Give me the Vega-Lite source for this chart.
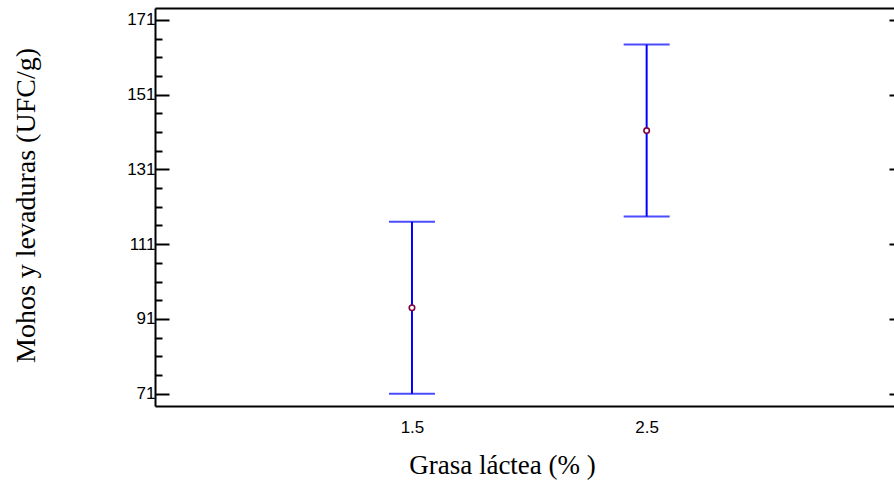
{
  "$schema": "https://vega.github.io/schema/vega-lite/v6.json",
  "width": 739,
  "height": 398,
  "autosize": "none",
  "padding": {"left": 155, "top": 8, "right": 0, "bottom": 75},
  "background": "white",
  "config": {"view": {"stroke": null}},
  "data": {"values": [
    {"grasa": 1.5, "media": 94.0, "lo": 71.0, "hi": 117.0},
    {"grasa": 2.5, "media": 141.4, "lo": 118.4, "hi": 164.4}
  ]},
  "resolve": {"axis": {"x": "independent", "y": "independent"}},
  "layer": [
    {
      "mark": {"type": "rule", "color": "#0000ff", "strokeWidth": 2},
      "encoding": {
        "x": {"field": "grasa", "type": "quantitative",
          "scale": {"domain": [0.405, 3.554], "nice": false, "zero": false},
          "axis": {"orient": "bottom", "values": [1.5, 2.5], "format": ".1f", "ticks": false,
            "grid": false, "domainColor": "black", "domainWidth": 2, "labelPadding": 13,
            "labelFont": "Liberation Sans", "labelFontSize": 17, "labelColor": "black",
            "title": "Grasa láctea (% )", "titleFont": "Liberation Serif", "titleFontSize": 27,
            "titleFontWeight": "normal", "titleColor": "black", "titleAnchor": "middle",
            "titleAlign": "center", "titleBaseline": "middle", "titleX": 347, "titleY": 59}},
        "y": {"field": "lo", "type": "quantitative",
          "scale": {"domain": [67.7, 174.2], "nice": false, "zero": false},
          "axis": {"orient": "left", "values": [71, 76, 81, 86, 91, 96, 101, 106, 111, 116, 121, 126, 131, 136, 141, 146, 151, 156, 161, 166, 171],
            "grid": false, "domainColor": "black", "domainWidth": 2,
            "tickColor": "black", "tickWidth": 2,
            "tickSize": {"condition": {"test": "(datum.value - 71) % 20 === 0", "value": -14}, "value": -7},
            "labelExpr": "(datum.value - 71) % 20 === 0 ? datum.label : ''",
            "labelPadding": 14, "labelFont": "Liberation Sans", "labelFontSize": 17, "labelColor": "black",
            "title": "Mohos y levaduras (UFC/g)", "titleFont": "Liberation Serif", "titleFontSize": 28,
            "titleFontWeight": "normal", "titleColor": "black", "titleAngle": -90,
            "titleAlign": "center", "titleBaseline": "middle", "titleX": -129, "titleY": 197}},
        "y2": {"field": "hi"}
      }
    },
    {
      "mark": {"type": "tick", "orient": "horizontal", "color": "#0000ff", "thickness": 2, "size": 46},
      "encoding": {
        "x": {"field": "grasa", "type": "quantitative",
          "axis": {"orient": "top", "ticks": false, "labels": false, "title": null, "grid": false,
            "domainColor": "black", "domainWidth": 2}},
        "y": {"field": "hi", "type": "quantitative",
          "axis": {"orient": "right", "values": [71, 91, 111, 131, 151, 171], "domain": false,
            "labels": false, "title": null, "grid": false, "tickColor": "black", "tickWidth": 2, "tickSize": -5}}
      }
    },
    {
      "mark": {"type": "tick", "orient": "horizontal", "color": "#0000ff", "thickness": 2, "size": 46},
      "encoding": {
        "x": {"field": "grasa", "type": "quantitative", "axis": null},
        "y": {"field": "lo", "type": "quantitative", "axis": null}
      }
    },
    {
      "mark": {"type": "point", "shape": "circle", "filled": false, "color": "#800040", "strokeWidth": 1.6, "size": 30, "fill": "white", "fillOpacity": 1},
      "encoding": {
        "x": {"field": "grasa", "type": "quantitative", "axis": null},
        "y": {"field": "media", "type": "quantitative", "axis": null}
      }
    }
  ]
}
